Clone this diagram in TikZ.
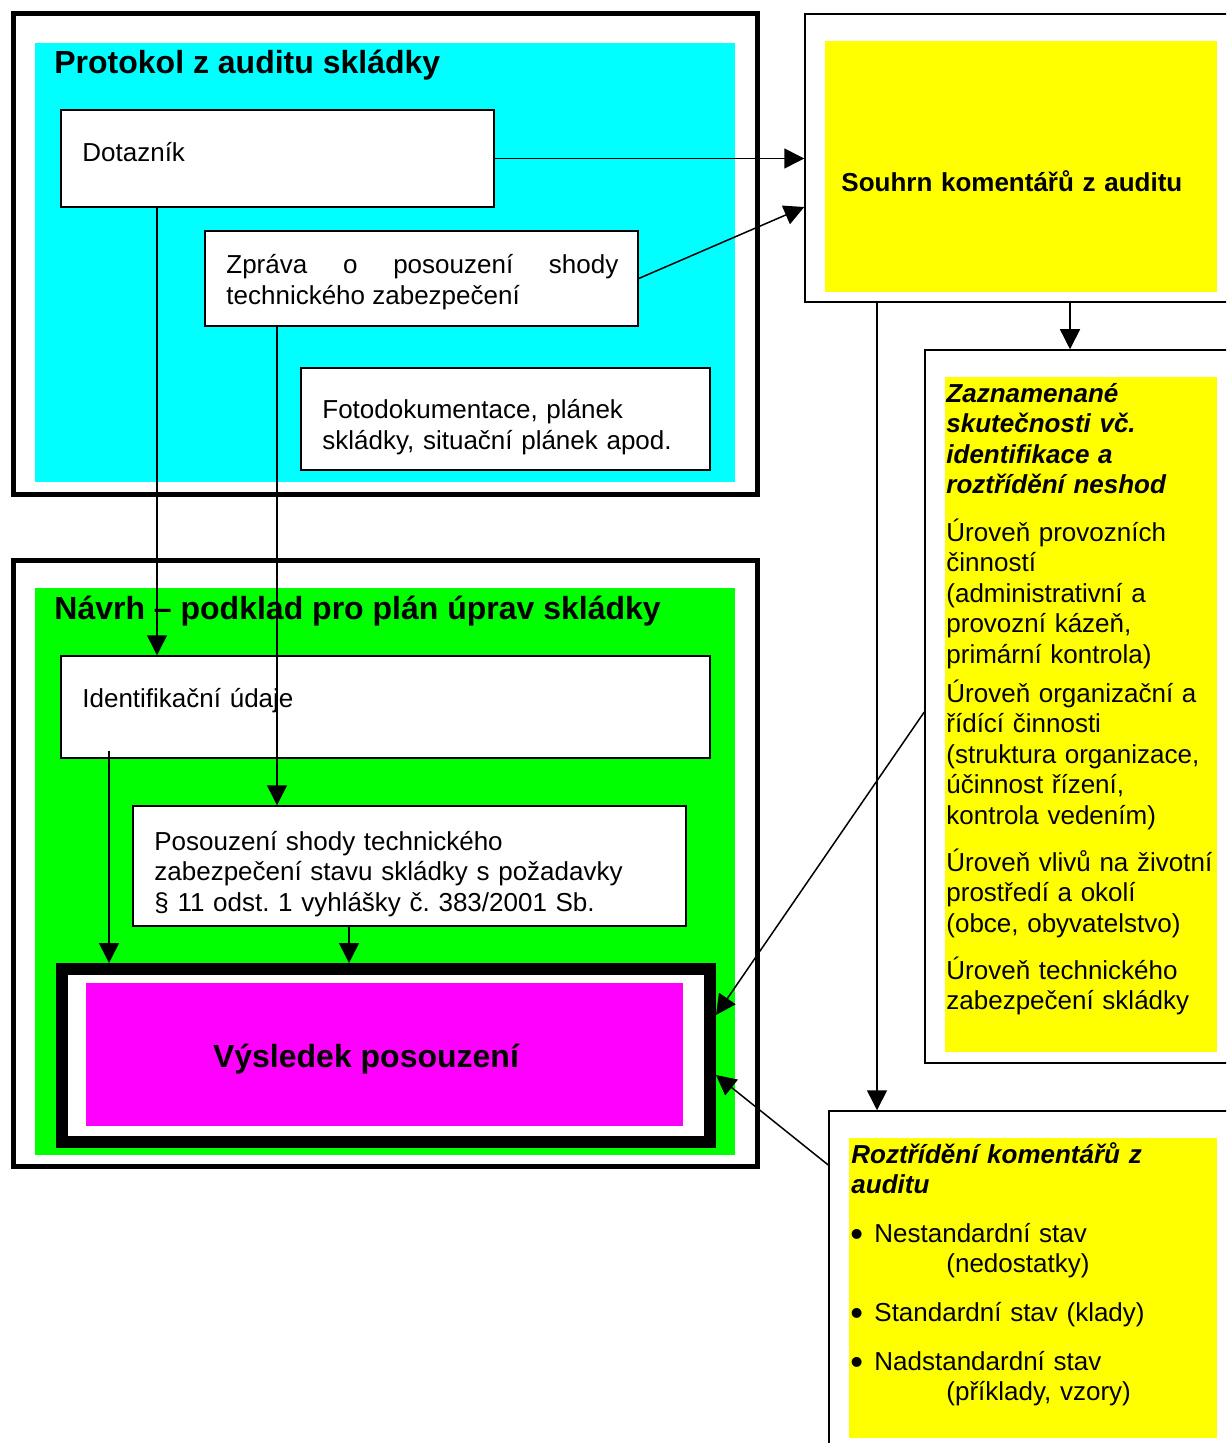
\documentclass[tikz,border=0pt]{standalone}
\usepackage{fontspec}
\setmainfont{Liberation Sans}
\usetikzlibrary{arrows.meta}
\tolerance=10000
\hyphenpenalty=10000
\exhyphenpenalty=10000
\frenchspacing
\definecolor{cyanbg}{RGB}{0,255,255}
\definecolor{greenbg}{RGB}{0,255,0}
\definecolor{magbg}{RGB}{255,0,255}
\definecolor{yelbg}{RGB}{255,255,0}
\newcommand{\mybul}{\makebox[12pt][l]{\raisebox{-2.4pt}{\scalebox{1.4}{•}}}}
\tikzset{
  thickframe/.style={draw, line width=2.5pt, fill=white, inner sep=0pt},
  whitebox/.style={draw, line width=0.75pt, fill=white, inner sep=0pt},
  txt/.style={inner sep=0pt, anchor=base west, text width=280pt, align=left, font=\fontsize{13}{15.25}\selectfont},
  ttl/.style={inner sep=0pt, anchor=base west, font=\fontsize{16}{19}\selectfont\bfseries},
  arr/.style={line width=0.75pt, -{Triangle[length=10pt,width=10pt]}},
}
\begin{document}
\begin{tikzpicture}[x=0.5pt,y=-0.5pt]
\clip (0,0) rectangle (1226,1443);
\fill[white] (0,0) rectangle (1226,1443);
% left upper frame
\node[thickframe, minimum width=372pt, minimum height=240pt] (fr1) at (385,254) {};
\fill[cyanbg] (35,43) rectangle (735,482);
\node[ttl] (t1) at (54,74) {Protokol z auditu skládky};
\node[whitebox, minimum width=216.5pt, minimum height=48.5pt] (dot) at (277.5,158.5) {};
\node[txt] (dott) at (82,162) {Dotazník};
\node[whitebox, minimum width=216.5pt, minimum height=47.5pt] (zpr) at (421.5,278.5) {};
\node[txt, text width=196pt, align=justify] (zprt) at (226,274) {Zpráva o posouzení shody technického zabezpečení};
\node[whitebox, minimum width=204.5pt, minimum height=51pt] (foto) at (505.5,419) {};
\node[txt] (fotot) at (322,419) {Fotodokumentace, plánek\\skládky, situační plánek apod.};
% left lower frame
\node[thickframe, minimum width=372pt, minimum height=303pt] (fr2) at (385,863) {};
\fill[greenbg] (35,588) rectangle (735,1155);
\node[ttl] (t2) at (54,619) {Návrh – podklad pro plán úprav skládky};
\node[whitebox, minimum width=324.5pt, minimum height=51pt] (ident) at (385.5,707) {};
\node[txt] (identt) at (82,707) {Identifikační údaje};
\node[whitebox, minimum width=276.5pt, minimum height=60pt] (pos) at (409.5,866) {};
\node[txt] (post) at (154,850) {Posouzení shody technického\\zabezpečení stavu skládky s požadavky\\§ 11 odst. 1 vyhlášky č. 383/2001 Sb.};
\node[draw, line width=6pt, fill=white, inner sep=0pt, minimum width=324pt, minimum height=86.5pt] (vys) at (386,1055.5) {};
\fill[magbg] (86,983) rectangle (683,1126);
\node[ttl, anchor=base] (vyst) at (366,1067) {Výsledek posouzení};
% right boxes
\node[whitebox, minimum width=222.5pt, minimum height=144pt] (souhrn) at (1027.5,158) {};
\fill[yelbg] (825,41) rectangle (1217,292);
\node[txt, font=\fontsize{13}{15.25}\selectfont\bfseries] (souhrnt) at (841,192) {Souhrn komentářů z auditu};
\node[whitebox, minimum width=162.5pt, minimum height=356.5pt] (zaz) at (1087.5,706.5) {};
\fill[yelbg] (945,377) rectangle (1217,1052);
\node[txt, font=\fontsize{13}{15.25}\selectfont\bfseries\itshape] (zazt) at (946,402) {Zaznamenané\\skutečnosti vč.\\identifikace a\\roztřídění neshod};
\node[txt] (zaz1) at (946,541) {Úroveň provozních\\činností\\(administrativní a\\provozní kázeň,\\primární kontrola)};
\node[txt] (zaz2) at (946,702) {Úroveň organizační a\\řídící činnosti\\(struktura organizace,\\účinnost řízení,\\kontrola vedením)};
\node[txt] (zaz3) at (946,871) {Úroveň vlivů na životní\\prostředí a okolí\\(obce, obyvatelstvo)};
\node[txt] (zaz4) at (946,979) {Úroveň technického\\zabezpečení skládky};
\node[whitebox, minimum width=210.5pt, minimum height=179.5pt] (roz) at (1039.5,1290.5) {};
\fill[yelbg] (849,1138) rectangle (1217,1438);
\node[txt, font=\fontsize{13}{15.25}\selectfont\bfseries\itshape] (rozt) at (851,1163) {Roztřídění komentářů z\\auditu};
\node[txt] (roz1) at (850,1242) {\mybul Nestandardní stav\\\hspace*{48pt}(nedostatky)};
\node[txt] (roz2) at (850,1321) {\mybul Standardní stav (klady)};
\node[txt] (roz3) at (850,1370) {\mybul Nadstandardní stav\\\hspace*{48pt}(příklady, vzory)};
% connectors
\coordinate (s5) at (109,751);
\draw[arr] (dot.east) -- (dot.east -| souhrn.west);
\draw[arr] (zpr.east) -- (souhrn.west |- 0,207);
\draw[arr] (dot.south -| 157,0) -- (ident.north -| 157,0);
\draw[arr] (zpr.south -| 277,0) -- (pos.north -| 277,0);
\draw[arr] (s5) -- (vys.north -| s5);
\draw[arr] (pos.south -| 349,0) -- (vys.north -| 349,0);
\draw[arr] (souhrn.south -| 1070,0) -- (zaz.north -| 1070,0);
\draw[arr] (souhrn.south -| 877,0) -- (roz.north -| 877,0);
\draw[arr] (zaz.west |- 0,712) -- (vys.east |- 0,1015);
\draw[arr] (roz.west |- 0,1165) -- (vys.east |- 0,1075);
\end{tikzpicture}
\end{document}
